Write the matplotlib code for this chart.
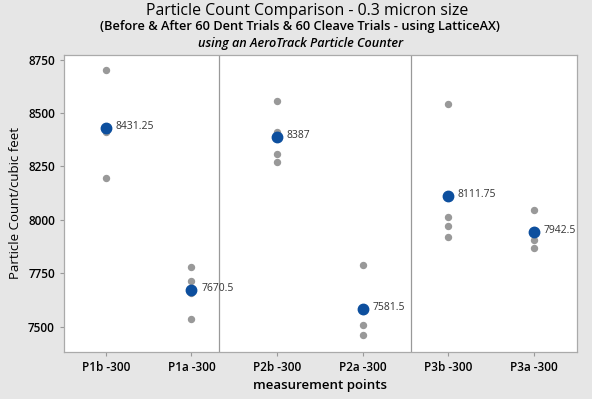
import matplotlib.pyplot as plt

labels = ['P1b -300', 'P1a -300', 'P2b -300', 'P2a -300', 'P3b -300', 'P3a -300']
p1b = [8701, 8418, 8409, 8197]
p1a = [7777, 7714, 7657, 7534]
p2b = [8557, 8413, 8309, 8269]
p2a = [7789, 7571, 7507, 7459]
p3b = [8542, 8014, 7969, 7919]
p3a = [8047, 7950, 7906, 7867]
means = [8431.25, 7670.5, 8387, 7581.5, 8111.75, 7942.5]
mean_labels = ['8431.25', '7670.5', '8387', '7581.5', '8111.75', '7942.5']
separators = [1.32, 3.56]

plt.rcParams['font.family'] = ['Open Sans', 'DejaVu Sans']

fig = plt.figure(figsize=(5.92, 3.99), dpi=100, facecolor='#e6e6e6')
ax = fig.add_axes([0.108, 0.1185, 0.866, 0.7435])
ax.set_facecolor('white')

groups = [p1b, p1a, p2b, p2a, p3b, p3a]
for i, vals in enumerate(groups):
    ax.plot([i] * len(vals), vals, 'o', color='#999999', markersize=4.3, zorder=2)

ax.plot(range(len(means)), means, 'o', color='#0d4f9e', markersize=7.5, zorder=3)
for i, (m, t) in enumerate(zip(means, mean_labels)):
    ax.annotate(t, (i, m), xytext=(7, 1), textcoords='offset points',
                fontsize=7.5, color='#333333', va='center', ha='left')

for s in separators:
    ax.axvline(s, color='#999999', lw=0.9, zorder=1)

ax.set_xlim(-0.49, 5.5)
ax.set_ylim(7382, 8771)
ax.set_xticks(range(len(labels)))
ax.set_xticklabels(labels, fontsize=8.5, fontweight='semibold')
ax.set_yticks([7500, 7750, 8000, 8250, 8500, 8750])
ax.tick_params(axis='y', labelsize=8.5, length=3, color='#999999')
for t in ax.get_yticklabels():
    t.set_fontweight('semibold')
ax.tick_params(axis='x', length=3, color='#999999', pad=4)
for sp in ax.spines.values():
    sp.set_color('#aaaaaa')
    sp.set_linewidth(0.9)

ax.set_xlabel('measurement points', fontsize=9.5, fontweight='semibold', labelpad=3)
ax.set_ylabel('Particle Count/cubic feet', fontsize=9.5, labelpad=4)

fig.text(0.518, 0.962, 'Particle Count Comparison - 0.3 micron size',
         ha='center', va='baseline', fontsize=11.4)
fig.text(0.507, 0.926, '(Before & After 60 Dent Trials & 60 Cleave Trials - using LatticeAX)',
         ha='center', va='baseline', fontsize=9.2, fontweight='semibold')
fig.text(0.508, 0.883, 'using an AeroTrack Particle Counter',
         ha='center', va='baseline', fontsize=9.1, fontweight='semibold', style='italic')

fig.savefig('out.png', dpi=100, facecolor=fig.get_facecolor())
